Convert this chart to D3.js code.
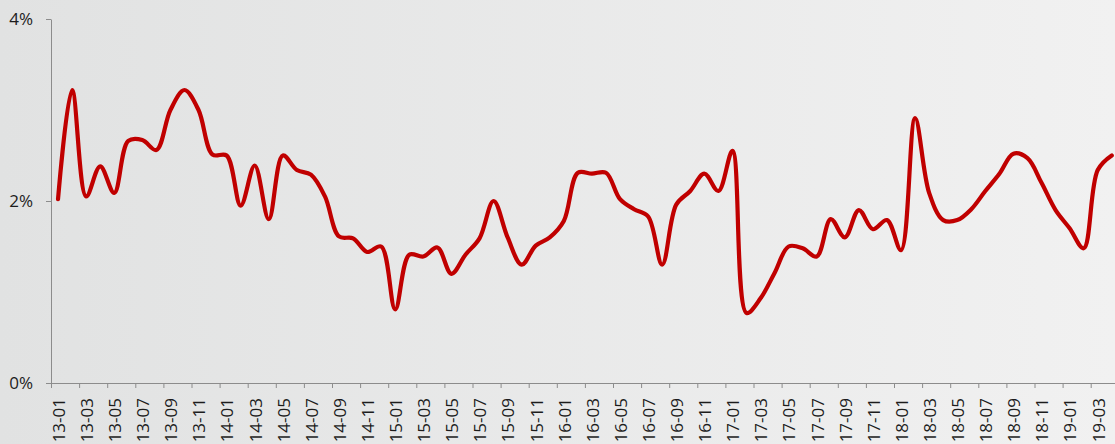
<!DOCTYPE html>
<html>
<head>
<meta charset="utf-8">
<script src="https://cdn.jsdelivr.net/npm/d3@7"></script>
<style>
  html, body { margin: 0; padding: 0; overflow: hidden; }
  body { width: 1115px; height: 444px; }
  .axis text { font-family: "Open Sans", "Liberation Sans", sans-serif; font-size: 17px; fill: #1c1c1c; }
  .axis path, .axis line { stroke: #8c8c8c; stroke-width: 1; }
</style>
</head>
<body>
<div id="chart"></div>
<script>
// months 13-01 .. 19-04
var months = [];
for (var yr = 13; yr <= 19; yr++) {
  for (var m = 1; m <= 12; m++) {
    if (yr === 19 && m > 4) break;
    months.push(yr + "-" + (m < 10 ? "0" + m : m));
  }
}

// monthly rate in %
var rates = [
  2.02, 3.22, 2.05, 2.38, 2.09, 2.66, 2.67, 2.56, 3.00, 3.22, 3.00, 2.51,
  2.50, 1.95, 2.39, 1.80, 2.50, 2.34, 2.29, 2.05, 1.61, 1.59, 1.44, 1.50,
  0.81, 1.41, 1.39, 1.49, 1.20, 1.41, 1.59, 2.00, 1.60, 1.30, 1.51, 1.60,
  1.78, 2.31, 2.30, 2.31, 2.02, 1.91, 1.83, 1.30, 1.96, 2.11, 2.30, 2.11,
  2.55, 0.77, 0.93, 1.21, 1.50, 1.48, 1.39, 1.80, 1.60, 1.90, 1.69, 1.79,
  1.46, 2.91, 2.09, 1.79, 1.79, 1.91, 2.11, 2.30, 2.52, 2.47, 2.20, 1.90,
  1.70, 1.48, 2.34, 2.50
];

var yTicks = [0, 2, 4];

var svgWidth = 1115;
var svgHeight = 444;

var margin = { top: 19, left: 51, bottom: 61 };
var bandW = 14.05;
var plotRight = margin.left + bandW * months.length;
var chartBottom = svgHeight - margin.bottom;

var svg = d3.select("#chart")
  .append("svg")
  .attr("width", svgWidth)
  .attr("height", svgHeight);

// background gradient
var grad = svg.append("defs").append("linearGradient")
  .attr("id", "bg")
  .attr("x1", "0%").attr("y1", "0%")
  .attr("x2", "100%").attr("y2", "0%");
grad.append("stop").attr("offset", "0%").attr("stop-color", "#e1e2e2");
grad.append("stop").attr("offset", "100%").attr("stop-color", "#f1f1f1");

svg.append("rect")
  .attr("width", svgWidth)
  .attr("height", svgHeight)
  .attr("fill", "url(#bg)");

// scales
var xBand = d3.scaleBand()
  .domain(months)
  .range([margin.left, plotRight]);

var xLin = d3.scaleLinear()
  .domain([0, months.length])
  .range([margin.left, plotRight]);

var yScale = d3.scaleLinear()
  .domain([0, 4])
  .range([chartBottom, margin.top]);

// x axis: line + tick marks between every two months
svg.append("g")
  .attr("class", "axis")
  .attr("transform", `translate(0, ${chartBottom})`)
  .call(d3.axisBottom(xLin)
    .tickValues(d3.range(0, months.length + 1, 2))
    .tickSize(5)
    .tickSizeOuter(0)
    .tickFormat(""));

// x labels, every other month, rotated
var xLabels = svg.append("g")
  .attr("class", "axis")
  .attr("transform", `translate(0, ${chartBottom})`)
  .call(d3.axisBottom(xBand)
    .tickValues(months.filter(function(d, i) { return i % 2 === 0; }))
    .tickSize(0));
xLabels.select(".domain").remove();
xLabels.selectAll("text")
  .attr("transform", "rotate(-90)")
  .attr("x", -15)
  .attr("y", 0)
  .attr("dy", "0.4em")
  .style("text-anchor", "end");

// y axis
svg.append("g")
  .attr("class", "axis")
  .attr("transform", `translate(${margin.left}, 0)`)
  .call(d3.axisLeft(yScale)
    .tickValues(yTicks)
    .tickSize(5)
    .tickSizeOuter(0)
    .tickPadding(13)
    .tickFormat(function(d) { return d + "%"; }));

// line
var line = d3.line()
  .x(function(d, i) { return xBand(months[i]) + xBand.bandwidth() / 2; })
  .y(function(d) { return yScale(d); })
  .curve(d3.curveCatmullRom.alpha(0.5));

svg.append("path")
  .datum(rates)
  .attr("fill", "none")
  .attr("stroke", "#c00000")
  .attr("stroke-width", 4.2)
  .attr("stroke-linejoin", "round")
  .attr("stroke-linecap", "round")
  .attr("d", line);
</script>
</body>
</html>
